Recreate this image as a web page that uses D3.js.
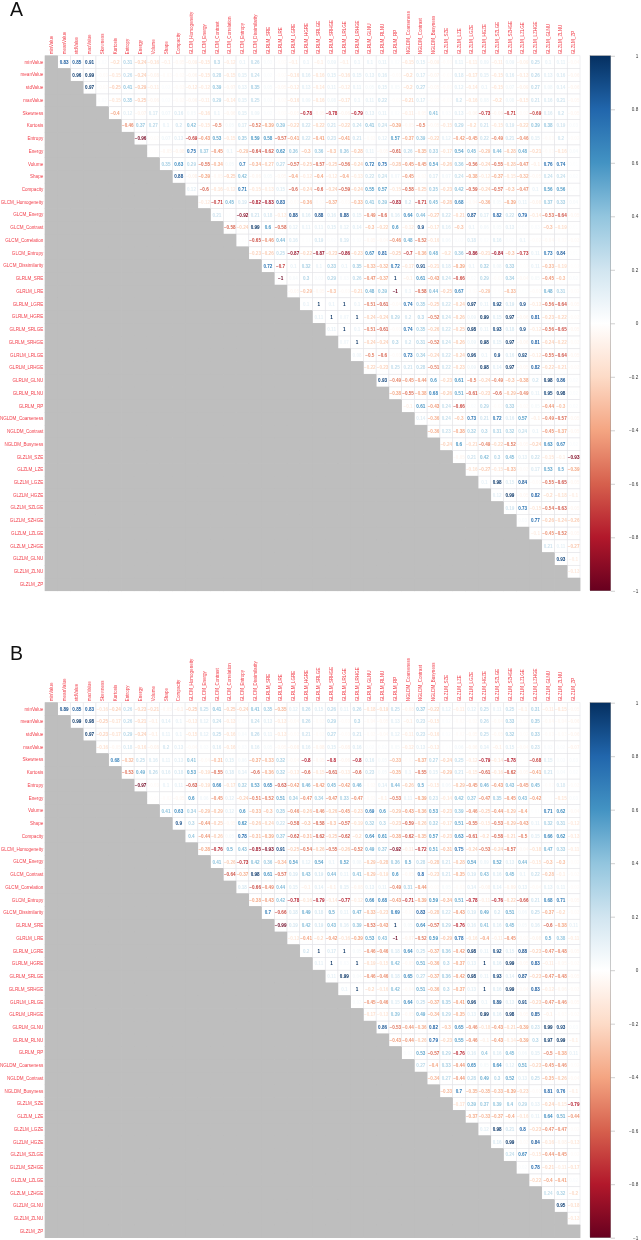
<!DOCTYPE html>
<html>
<head>
<meta charset="utf-8">
<script src="https://cdn.jsdelivr.net/npm/d3@7"></script>
<style>
  html, body { margin: 0; padding: 0; background: #fff; }
  svg { display: block; filter: blur(0.3px); }
</style>
</head>
<body>
<svg id="chart"></svg>
<script>
const features = "minValue,meanValue,stdValue,maxValue,Skewness,Kurtosis,Entropy,Energy,Volume,Shape,Compacity,GLCM_Homogeneity,GLCM_Energy,GLCM_Contrast,GLCM_Correlation,GLCM_Entropy,GLCM_Dissimilarity,GLRLM_SRE,GLRLM_LRE,GLRLM_LGRE,GLRLM_HGRE,GLRLM_SRLGE,GLRLM_SRHGE,GLRLM_LRLGE,GLRLM_LRHGE,GLRLM_GLNU,GLRLM_RLNU,GLRLM_RP,NGLDM_Coarseness,NGLDM_Contrast,NGLDM_Busyness,GLZLM_SZE,GLZLM_LZE,GLZLM_LGZE,GLZLM_HGZE,GLZLM_SZLGE,GLZLM_SZHGE,GLZLM_LZLGE,GLZLM_LZHGE,GLZLM_GLNU,GLZLM_ZLNU,GLZLM_ZP".split(",");

// upper triangle only, each row starts one column right of the diagonal
const corrA = [
  [.83,.85,.91,.02,-.2,.31,-.24,-.16,-.1,-.05,-.09,-.15,.3,-.12,.1,.26,.03,-.02,-.1,.1,-.1,.09,-.1,.1,.1,.11,.02,-.15,.15,-.09,-.03,.11,-.11,.09,-.11,.09,-.09,.25,.1,.11,-.04],
  [.96,.99,-.03,-.15,.26,-.24,-.08,-.03,-.03,-.06,-.15,.28,-.15,.15,.24,.02,-.02,-.16,.16,-.16,.15,-.16,.15,.13,.16,-.03,-.2,.17,-.07,-.02,.18,-.17,.15,-.15,.16,-.13,.26,.13,.16,-.06],
  [.97,-.02,-.25,.41,-.29,-.11,.02,-.03,-.12,-.12,.39,-.07,.13,.35,.05,-.05,-.12,.13,-.14,.11,-.12,.11,.05,.15,.05,-.2,.27,-.05,-.03,.12,-.14,.1,-.15,.07,-.09,.27,.08,.14,-.06],
  [.02,-.15,.35,-.25,-.06,.02,-.03,-.06,-.11,.29,-.14,.15,.25,.03,-.03,-.16,.09,-.16,.08,-.17,.1,.11,.22,-.02,-.21,.17,-.03,-.02,.2,-.16,.08,-.2,.08,-.15,.21,.16,.21,-.05],
  [-.4,.12,-.07,.17,.07,.16,.05,-.16,.1,-.06,.15,.09,.02,-.02,-.05,-.78,-.05,-.78,-.06,-.79,.13,.11,.02,-.11,-.05,.41,.03,.13,-.06,-.73,-.06,-.71,-.03,-.69,.16,.2,-.05],
  [-.46,.37,.27,.1,.2,.42,-.15,-.5,.05,.17,-.52,-.39,.39,-.22,.22,-.22,.21,-.22,.24,.41,.24,-.39,-.05,-.5,-.05,-.15,.29,-.2,.21,-.15,.19,-.22,.39,.38,.19,.03],
  [-.96,-.02,.07,.13,-.69,-.43,.53,-.15,.35,.59,.58,-.57,-.41,.22,-.41,.23,-.41,.21,-.03,.12,.57,-.37,.39,-.22,.12,-.42,-.45,.22,-.49,.21,-.46,.15,-.03,.2,-.02],
  [-.01,-.05,-.08,.75,.37,-.45,.1,-.29,-.64,-.62,.62,.36,-.3,.36,-.3,.36,-.28,.11,-.05,-.61,.26,-.35,.33,-.17,.54,.45,-.29,.44,-.28,.48,-.21,-.03,-.16,.04],
  [.35,.63,.29,-.55,-.34,.05,.7,-.34,-.27,.27,-.57,-.25,-.57,-.25,-.56,-.24,.72,.75,-.28,-.45,-.45,.54,-.26,.36,-.56,-.24,-.55,-.28,-.47,-.1,.76,.74,.01],
  [.88,-.08,-.39,-.05,-.25,.42,-.06,.05,-.05,-.4,-.12,-.4,-.12,-.4,-.13,.22,.24,.07,-.45,-.03,.17,.07,.24,-.38,-.12,-.37,-.15,-.32,-.05,.24,.24,.02],
  [.12,-.6,-.16,-.12,.71,-.15,-.13,.15,-.6,-.24,-.6,-.24,-.59,-.24,.55,.57,-.15,-.58,-.25,.35,-.23,.42,-.59,-.24,-.57,-.3,-.47,.1,.56,.56,.01],
  [-.12,-.71,.45,.19,-.82,-.83,.83,-.03,-.36,-.02,-.37,-.03,-.33,.41,.39,-.83,.2,-.71,.45,-.28,.68,-.04,-.36,.05,-.39,.11,-.08,.37,.33,.04],
  [.21,.01,-.92,.21,.18,-.13,.88,.16,.88,.16,.88,.15,-.49,-.6,.16,.64,.44,-.27,.22,-.21,.87,.17,.82,.22,.79,-.14,-.53,-.64,-.05],
  [-.58,-.24,.99,.6,-.58,.12,.11,.11,.15,.12,.14,-.3,-.22,.6,-.12,.9,-.17,.16,-.3,.1,.06,.05,.13,.02,.03,-.3,-.19,.01],
  [.01,-.65,-.46,.44,.16,.01,.19,.02,.19,.02,-.05,-.04,-.46,.48,-.52,-.16,.06,.02,.18,.02,.16,.02,.1,-.02,-.04,-.02,-.03],
  [-.23,-.26,.25,-.87,-.22,-.87,-.23,-.86,-.23,.67,.81,-.25,-.7,-.36,.48,-.2,.36,-.86,-.21,-.84,-.3,-.73,.11,.73,.84,.01],
  [.72,-.7,.1,.32,.1,.33,.1,.35,-.33,-.32,.72,-.17,.91,-.21,.18,-.39,.1,.32,.08,.33,-.01,.11,-.33,-.19,-.01],
  [-1,.04,.3,.03,.29,.03,.26,-.47,-.37,1,-.1,.61,-.43,.24,-.66,.02,.29,-.02,.34,-.04,.05,-.45,-.3,.02],
  [-.05,-.29,-.05,-.3,-.03,-.21,.48,.39,-1,.1,-.58,.44,-.25,.67,-.02,-.29,-.01,-.33,.01,-.03,.48,.31,-.02],
  [.1,1,.1,1,.1,-.51,-.61,-.04,.74,.35,-.25,.22,-.24,.97,.11,.92,.19,.9,-.13,-.56,-.64,-.05],
  [.11,1,.07,1,-.24,-.24,.29,.2,.3,-.52,.24,-.26,.09,.99,.15,.97,-.06,.81,-.23,-.22,-.03],
  [.11,1,.1,-.51,-.61,-.03,.74,.35,-.26,.22,-.25,.98,.11,.93,.18,.9,-.12,-.56,-.65,-.05],
  [.07,1,-.24,-.24,.3,.2,.31,-.52,.24,-.26,.09,.98,.15,.97,-.06,.81,-.24,-.22,-.03],
  [.08,-.5,-.6,-.03,.73,.34,-.24,.22,-.24,.96,.1,.9,.16,.92,-.12,-.55,-.64,-.05],
  [-.22,-.23,.25,.21,.28,-.51,.22,-.23,.09,.98,.14,.97,-.05,.82,-.22,-.21,-.03],
  [.93,-.49,-.45,-.44,.6,-.23,.61,-.5,-.24,-.49,-.3,-.38,.2,.98,.86,.02],
  [-.38,-.55,-.38,.68,-.26,.51,-.61,-.23,-.6,-.29,-.49,.11,.95,.98,.02],
  [-.1,.61,-.43,.24,-.66,.02,.29,-.02,.33,-.03,.05,-.44,-.3,.02],
  [.14,-.36,.24,-.3,.73,.21,.72,.16,.57,-.1,-.49,-.57,-.05],
  [-.36,.23,-.38,.32,.3,.31,.32,.24,.1,-.45,-.37,-.05],
  [-.24,.6,-.21,-.49,-.22,-.52,-.05,-.24,.63,.67,.02],
  [-.05,.21,.42,.3,.45,.13,.22,-.15,-.1,-.93],
  [-.16,-.27,-.15,-.33,-.03,.17,.53,.5,-.39],
  [.1,.98,.15,.84,-.03,-.55,-.65,-.05],
  [.12,.99,-.05,.82,-.2,-.18,-.1],
  [.19,.73,-.15,-.54,-.63,-.05],
  [.03,.77,-.26,-.24,-.26],
  [-.1,-.45,-.52,-.05],
  [.21,.11,-.27],
  [.93,-.1],
  [-.13]
];

const corrB = [
  [.89,.85,.83,-.16,-.24,.26,-.23,-.21,-.05,-.1,-.25,.25,.41,-.25,-.24,.41,.35,-.35,.12,.26,.15,.26,.11,.26,-.18,-.19,.25,-.08,.37,-.22,.12,-.11,.12,.25,.11,.25,-.1,.31,-.11,-.15,-.05],
  [.99,.98,-.25,-.17,.26,-.21,-.1,.14,.1,-.13,.12,.24,-.13,.02,.24,.13,-.13,-.04,.26,-.03,.29,-.03,.3,-.04,-.05,.13,-.1,.23,-.15,.02,-.02,-.03,.26,-.04,.33,-.02,.35,-.04,-.04,-.06],
  [.97,-.23,-.17,.29,-.24,-.1,.11,.1,-.15,.12,.25,-.16,.04,.26,.11,-.13,-.03,.21,-.03,.27,-.03,.21,-.03,-.04,.12,-.11,.23,-.16,.02,-.02,-.05,.25,-.05,.32,-.02,.33,-.03,-.03,-.06],
  [-.16,-.05,.18,-.16,-.08,.2,.13,-.04,.03,.16,-.16,.03,.16,.05,-.05,-.08,.16,-.08,.15,-.08,.16,.02,.02,.05,-.12,.13,-.13,.01,.06,-.06,.14,-.1,.15,-.04,.23,.03,.02,-.07],
  [.68,-.32,.25,.16,.11,.13,.41,-.04,-.31,.15,.06,-.37,-.33,.32,-.04,-.8,-.05,-.8,-.06,-.8,.16,.05,-.33,-.02,-.37,.27,-.24,.25,-.12,-.79,-.14,-.78,-.01,-.68,.15,.03,.03],
  [-.53,.49,.26,.16,.18,.53,-.19,-.55,.18,.14,-.6,-.36,.32,-.13,-.6,-.15,-.61,-.13,-.6,.23,.05,-.35,.1,-.55,.15,-.29,.21,-.15,-.61,-.16,-.62,-.05,-.41,.21,.04,.02],
  [-.97,-.03,.1,.11,-.63,-.19,.66,-.17,.32,.53,.65,-.63,-.42,.46,-.42,.45,-.42,.46,-.03,.14,.44,-.26,.5,-.15,.06,-.29,-.45,.46,-.43,.43,-.45,.45,-.02,.18,-.03],
  [-.01,-.02,-.05,.6,.06,-.45,.12,-.24,-.51,-.52,.51,.34,-.47,.34,-.47,.33,-.47,-.03,-.1,-.53,.11,-.39,.23,-.14,.42,.37,-.47,.35,-.45,.43,-.42,.01,-.15,.03],
  [.41,.63,.34,-.29,-.29,.12,.6,-.33,-.3,.35,-.46,-.26,-.46,-.26,-.45,-.23,.69,.6,-.29,-.43,-.36,.53,-.23,.39,-.46,-.25,-.44,-.29,-.4,.01,.71,.62,-.04],
  [.9,.3,-.44,-.25,-.05,.62,-.26,-.24,.22,-.58,-.3,-.58,-.3,-.57,-.19,.32,.3,-.23,-.59,-.26,.32,-.17,.51,-.55,-.15,-.53,-.29,-.43,.11,.32,.31,-.12],
  [.4,-.44,-.26,.05,.78,-.31,-.39,.37,-.62,-.31,-.62,-.25,-.62,-.2,.64,.61,-.38,-.62,-.35,.57,-.23,.63,-.61,-.2,-.58,-.21,-.5,.15,.66,.62,-.13],
  [-.38,-.76,.5,.43,-.85,-.93,.91,-.25,-.54,-.26,-.55,-.26,-.52,.49,.37,-.92,-.11,-.72,.51,-.31,.75,-.24,-.53,-.24,-.57,-.04,-.18,.47,.33,-.11],
  [.41,-.26,-.73,.42,.36,-.34,.54,.12,.54,.1,.52,.08,-.29,-.28,.36,.5,.28,-.28,.21,-.28,.54,.09,.52,.13,.44,-.15,-.3,-.3,-.02],
  [-.64,-.37,.98,.61,-.57,.19,.43,.19,.44,.11,.41,-.29,-.19,.6,-.05,.8,-.23,.21,-.35,.19,.43,.16,.45,.1,.22,-.28,-.1,-.03],
  [.18,-.66,-.49,.44,.15,-.1,.14,-.1,.15,-.08,.13,.11,-.49,.31,-.44,-.03,.05,-.03,.14,-.08,.14,-.09,.13,-.04,.13,.11,-.02],
  [-.38,-.43,.42,-.78,-.16,-.79,-.14,-.77,-.12,.66,.68,-.43,-.71,-.39,.59,-.34,.51,-.78,-.11,-.76,-.22,-.66,.21,.68,.71,-.05],
  [.7,-.66,.18,.49,.18,.5,.11,.47,-.33,-.23,.69,-.03,.83,-.28,.22,-.43,.19,.49,.2,.51,.06,.25,-.37,-.2,-.03],
  [-.99,.19,.42,.19,.43,.16,.39,-.53,-.43,1,.05,.64,-.57,.29,-.76,.16,.41,.16,.45,.05,.16,-.6,-.38,.11],
  [-.13,-.41,-.2,-.42,-.16,-.39,.53,.43,-1,-.07,-.52,.59,-.29,.78,-.16,-.4,-.11,-.45,-.03,-.08,.5,.38,-.11],
  [.2,1,.17,1,.05,-.46,-.46,.18,.64,.25,-.37,.36,-.42,.98,.11,.92,.15,.88,-.23,-.47,-.48,-.05],
  [.11,1,.03,1,-.19,-.15,.42,-.05,.51,-.36,.3,-.37,.13,1,.16,.99,-.05,.83,-.11,-.05,-.03],
  [.11,.99,.04,-.46,-.46,.18,.65,.27,-.37,.36,-.42,.98,.11,.93,.14,.87,-.23,-.47,-.48,-.05],
  [.1,1,-.2,-.16,.42,-.04,.51,-.36,.3,-.37,.13,1,.16,.99,-.04,.83,-.12,-.06,-.03],
  [.03,-.45,-.46,.15,.64,.25,-.37,.35,-.41,.96,.1,.89,.13,.91,-.23,-.47,-.46,-.05],
  [-.17,-.13,.39,-.05,.49,-.34,.29,-.35,.13,.99,.16,.98,-.05,.85,-.1,-.03,-.03],
  [.86,-.53,-.44,-.36,.82,-.3,.65,-.46,-.18,-.43,-.21,-.39,.23,.99,.93,.03],
  [-.43,-.44,-.26,.79,-.23,.55,-.46,-.1,-.43,-.14,-.39,.3,.97,.99,-.1],
  [.02,.53,-.57,.29,-.76,.16,.4,.16,.45,.06,.15,-.5,-.38,.11],
  [.27,-.4,.33,-.44,.65,.05,.64,.12,.51,-.23,-.45,-.46,-.02],
  [-.34,.27,-.44,.28,.49,.3,.52,.13,.25,-.35,-.26,-.04],
  [-.33,.7,-.35,-.35,-.33,-.39,-.23,-.03,.81,.76,-.1],
  [-.17,.39,.37,.39,.4,.29,.13,-.24,-.15,-.79],
  [-.37,-.33,-.37,-.4,-.16,.11,.64,.51,-.44],
  [.12,.98,.21,.8,-.23,-.47,-.47,-.02],
  [.16,.99,-.03,.84,-.16,-.08,-.13],
  [.24,.67,-.15,-.44,-.45,-.02],
  [.02,.78,-.21,-.11,-.17],
  [-.22,-.4,-.41,.02],
  [.24,.32,-.2],
  [.95,-.18],
  [-.13]
];

const legendTicks = [1, 0.8, 0.6, 0.4, 0.2, 0, -0.2, -0.4, -0.6, -0.8, -1];
const palette = ["#67001F","#B2182B","#D6604D","#F4A582","#FDDBC7","#FFFFFF","#D1E5F0","#92C5DE","#4393C3","#2166AC","#053061"];

const width = 641;
const height = 1240;
const left = 45;
const size = 535;

// row lengths must line up with the triangle
[corrA, corrB].forEach((m, n) => {
  m.forEach((row, r) => {
    if (row.length !== features.length - 1 - r) {
      throw new Error(`matrix ${n} row ${r} has ${row.length} values`);
    }
  });
});

const svg = d3.select("#chart").attr("width", width).attr("height", height);

const color = d3
  .scaleLinear()
  .domain(d3.range(palette.length).map((i) => -1 + i * 0.2))
  .range(palette);

const x = d3.scaleBand().domain(features).range([left, left + size]);
const y = d3.scaleBand().domain(features).range([0, size]);
const legendY = d3.scaleLinear().domain([1, -1]).range([0, size]);

const fmt = (v) => String(v).replace("-", "\u2212");

const gradient = svg
  .append("defs")
  .append("linearGradient")
  .attr("id", "rdbu")
  .attr("x1", 0)
  .attr("y1", 1)
  .attr("x2", 0)
  .attr("y2", 0);
gradient
  .selectAll("stop")
  .data(palette)
  .enter()
  .append("stop")
  .attr("offset", (d, i) => i / (palette.length - 1))
  .attr("stop-color", (d) => d);

function drawPanel(values, top, letter, letterY) {
  const g = svg.append("g").attr("transform", `translate(0, ${top})`);

  svg
    .append("text")
    .attr("x", 10)
    .attr("y", letterY)
    .text(letter)
    .style("font-family", "Liberation Sans")
    .style("font-size", "19.5px")
    .style("fill", "#111");

  // lower triangle and diagonal are one gray block
  const cells = d3.cross(d3.range(features.length), d3.range(features.length));
  g.selectAll(".cell")
    .data(cells)
    .enter()
    .append("rect")
    .attr("class", "cell")
    .attr("x", (d) => x(features[d[1]]))
    .attr("y", (d) => y(features[d[0]]))
    .attr("width", x.bandwidth())
    .attr("height", y.bandwidth())
    .attr("fill", (d) => (d[1] <= d[0] ? "#bebebe" : "#fff"))
    .attr("stroke", (d) => (d[1] <= d[0] ? "#bebebe" : "#e4e4e8"))
    .attr("stroke-width", 0.6);

  // redraw the gray block on top so the white cell borders do not bite into it
  g.selectAll(".shade")
    .data(cells.filter((d) => d[1] <= d[0]))
    .enter()
    .append("rect")
    .attr("class", "shade")
    .attr("x", (d) => x(features[d[1]]))
    .attr("y", (d) => y(features[d[0]]))
    .attr("width", x.bandwidth() + 0.2)
    .attr("height", y.bandwidth() + 0.2)
    .attr("fill", "#bebebe");

  const labels = [];
  values.forEach((row, r) => {
    row.forEach((v, k) => labels.push({ r: r, c: r + 1 + k, v: v }));
  });

  g.selectAll(".value")
    .data(labels)
    .enter()
    .append("text")
    .attr("class", "value")
    .attr("x", (d) => x(features[d.c]) + x.bandwidth() / 2)
    .attr("y", (d) => y(features[d.r]) + y.bandwidth() / 2)
    .attr("dy", "0.35em")
    .attr("text-anchor", "middle")
    .text((d) => fmt(d.v))
    .style("fill", (d) => color(d.v))
    .style("font-family", "Liberation Sans")
    .style("font-weight", "bold")
    .style("font-size", "4.6px");

  const yAxis = d3.axisLeft(y).tickSize(0).tickPadding(1.8);
  const yG = g.append("g").attr("transform", `translate(${left}, 0)`).call(yAxis);
  yG.select(".domain").remove();
  yG.selectAll("text")
    .style("fill", "#f2404c")
    .style("font-family", "Liberation Sans")
    .style("font-size", "4.55px");

  const xAxis = d3.axisTop(x).tickSize(0).tickPadding(0);
  const xG = g.append("g").call(xAxis);
  xG.select(".domain").remove();
  xG.selectAll("text")
    .attr("transform", "rotate(-90)")
    .attr("x", 1.5)
    .attr("y", 0)
    .attr("dy", "0.35em")
    .attr("text-anchor", "start")
    .style("fill", "#f2404c")
    .style("font-family", "Liberation Sans")
    .style("font-size", "4.55px");

  // colour legend
  g.append("rect")
    .attr("x", 590)
    .attr("y", 0)
    .attr("width", 20.7)
    .attr("height", size)
    .attr("fill", "url(#rdbu)")
    .attr("stroke", "#555")
    .attr("stroke-width", 0.3);

  const legendAxis = d3
    .axisRight(legendY)
    .tickValues(legendTicks)
    .tickSize(4.3)
    .tickPadding(18)
    .tickFormat(fmt);
  const legendG = g.append("g").attr("transform", "translate(610.7, 0)").call(legendAxis);
  legendG.select(".domain").remove();
  legendG.selectAll("line").attr("stroke", "#888").attr("stroke-width", 0.4);
  legendG.selectAll("text")
    .attr("x", 27.5)
    .attr("text-anchor", "end")
    .style("fill", "#333")
    .style("font-family", "Liberation Sans")
    .style("font-size", "4.6px");
}

drawPanel(corrA, 55.8, "A", 15.7);
drawPanel(corrB, 702.7, "B", 660);
</script>
</body>
</html>
